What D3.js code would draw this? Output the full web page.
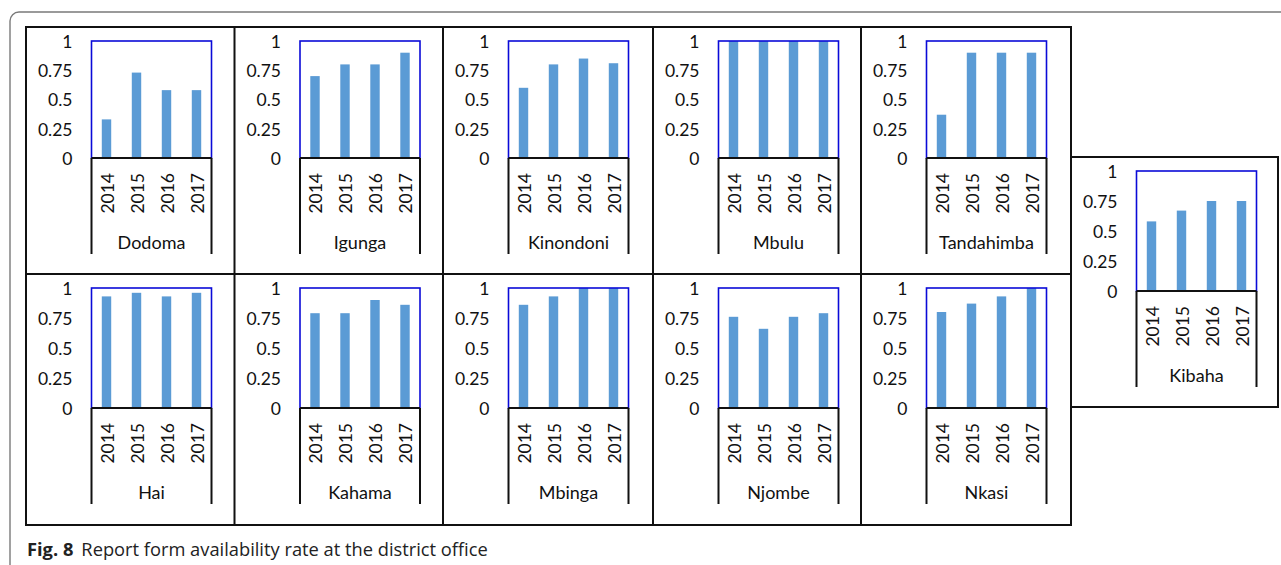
<!DOCTYPE html>
<html>
<head>
<meta charset="utf-8">
<script src="https://cdn.jsdelivr.net/npm/d3@7/dist/d3.min.js"></script>
<style>
  html, body { margin: 0; padding: 0; background: #fff; }
  svg { display: block; }
</style>
</head>
<body>
<svg id="chart" width="1281" height="565"></svg>
<script>
// ---- data ----
const years = ["2014", "2015", "2016", "2017"];
const tickValues = [0, 0.25, 0.5, 0.75, 1];
const tickLabels = ["0", "0.25", "0.5", "0.75", "1"];
const topRowDistricts = ["Dodoma", "Igunga", "Kinondoni", "Mbulu", "Tandahimba"];
const bottomRowDistricts = ["Hai", "Kahama", "Mbinga", "Njombe", "Nkasi"];
const sideDistrict = "Kibaha";

const dodoma     = [0.33, 0.73, 0.58, 0.58];
const igunga     = [0.70, 0.80, 0.80, 0.90];
const kinondoni  = [0.60, 0.80, 0.85, 0.81];
const mbulu      = [1.00, 1.00, 1.00, 1.00];
const tandahimba = [0.37, 0.90, 0.90, 0.90];
const hai        = [0.93, 0.96, 0.93, 0.96];
const kahama     = [0.79, 0.79, 0.90, 0.86];
const mbinga     = [0.86, 0.93, 1.00, 1.00];
const njombe     = [0.76, 0.66, 0.76, 0.79];
const nkasi      = [0.80, 0.87, 0.93, 1.00];
const kibaha     = [0.58, 0.67, 0.75, 0.75];

const caption = { bold: "Fig. 8", text: "Report form availability rate at the district office" };

const valuesByDistrict = {
  Dodoma: dodoma, Igunga: igunga, Kinondoni: kinondoni, Mbulu: mbulu, Tandahimba: tandahimba,
  Hai: hai, Kahama: kahama, Mbinga: mbinga, Njombe: njombe, Nkasi: nkasi, Kibaha: kibaha
};

// ---- layout ----
const svg = d3.select("#chart");
const FONT = "Lato, 'Open Sans', sans-serif";
const colX = [26, 234.5, 443, 653, 861, 1071];
const row1 = { top: 27, bottom: 274 };
const row2 = { top: 274, bottom: 525 };
const side = { x0: 1071, x1: 1278, top: 157, bottom: 407 };

// outer rounded frame
svg.append("rect")
  .attr("x", 10).attr("y", 12).attr("width", 1300).attr("height", 620)
  .attr("rx", 9).attr("ry", 9)
  .attr("fill", "none").attr("stroke", "#7a7a7a").attr("stroke-width", 1.4);

// table grid
const grid = svg.append("g").attr("stroke", "#111").attr("stroke-width", 2).attr("fill", "none");
grid.append("rect").attr("x", colX[0]).attr("y", row1.top)
  .attr("width", colX[5] - colX[0]).attr("height", row2.bottom - row1.top);
grid.append("line").attr("x1", colX[0]).attr("x2", colX[5]).attr("y1", row1.bottom).attr("y2", row1.bottom);
colX.slice(1, 5).forEach(x => grid.append("line").attr("x1", x).attr("x2", x).attr("y1", row1.top).attr("y2", row2.bottom));
grid.append("rect").attr("x", side.x0).attr("y", side.top)
  .attr("width", side.x1 - side.x0).attr("height", side.bottom - side.top);

function panel(name, cellX, cellTop, plotBottomOffset) {
  const vals = valuesByDistrict[name];
  const x0 = cellX + 65.5, x1 = x0 + 120;
  const yTop = cellTop + 14, yBot = cellTop + plotBottomOffset;
  const x = d3.scaleBand().domain(years).range([x0, x1]).paddingInner(0.686).paddingOuter(0.343);
  const y = d3.scaleLinear().domain([0, 1]).range([yBot, yTop]);
  const g = svg.append("g");

  // bars
  g.selectAll("rect.bar").data(years).enter().append("rect")
    .attr("class", "bar")
    .attr("x", d => x(d)).attr("width", x.bandwidth())
    .attr("y", (d, i) => y(vals[i])).attr("height", (d, i) => y(0) - y(vals[i]))
    .attr("fill", "#5b9bd5");

  // plot area border
  g.append("rect").attr("x", x0).attr("y", yTop).attr("width", x1 - x0).attr("height", yBot - yTop)
    .attr("fill", "none").attr("stroke", "#0a0ad8").attr("stroke-width", 1.6);

  // y axis labels
  const ax = d3.axisLeft(y).tickValues(tickValues).tickSize(0).tickPadding(19)
    .tickFormat((d, i) => tickLabels[i]);
  const ag = g.append("g").attr("transform", `translate(${x0},0)`).call(ax);
  ag.select(".domain").remove();
  ag.selectAll("text").attr("font-family", FONT).attr("font-size", 17.5).attr("fill", "#111").attr("dy", "0.36em");

  // baseline and category brackets
  g.append("line").attr("x1", x0).attr("x2", x1).attr("y1", yBot).attr("y2", yBot)
    .attr("stroke", "#111").attr("stroke-width", 2.2);
  [x0, x1].forEach(xx => g.append("line").attr("x1", xx).attr("x2", xx).attr("y1", yBot).attr("y2", yBot + 96)
    .attr("stroke", "#111").attr("stroke-width", 2));

  // year labels (rotated)
  g.selectAll("text.yr").data(years).enter().append("text")
    .attr("class", "yr")
    .attr("transform", d => `translate(${x(d) + x.bandwidth() / 2 + 1},${yBot + 15}) rotate(-90)`)
    .attr("text-anchor", "end").attr("dy", "0.36em")
    .attr("font-family", FONT).attr("font-size", 17.5).attr("fill", "#111")
    .text(d => d);

  // district label
  g.append("text").attr("x", (x0 + x1) / 2).attr("y", yBot + 85).attr("dy", "0.36em")
    .attr("text-anchor", "middle").attr("font-family", FONT).attr("font-size", 18).attr("fill", "#111")
    .text(name);
}

topRowDistricts.forEach((n, i) => panel(n, colX[i], row1.top, 131));
bottomRowDistricts.forEach((n, i) => panel(n, colX[i], row2.top, 134));
panel(sideDistrict, side.x0, side.top, 134);

// caption
const cap = svg.append("text").attr("x", 27).attr("y", 556)
  .attr("font-family", "'Open Sans', sans-serif").attr("font-size", 18.3).attr("fill", "#222");
cap.append("tspan").attr("font-weight", "bold").text(caption.bold);
cap.append("tspan").attr("dx", 8).text(caption.text);
</script>
</body>
</html>
